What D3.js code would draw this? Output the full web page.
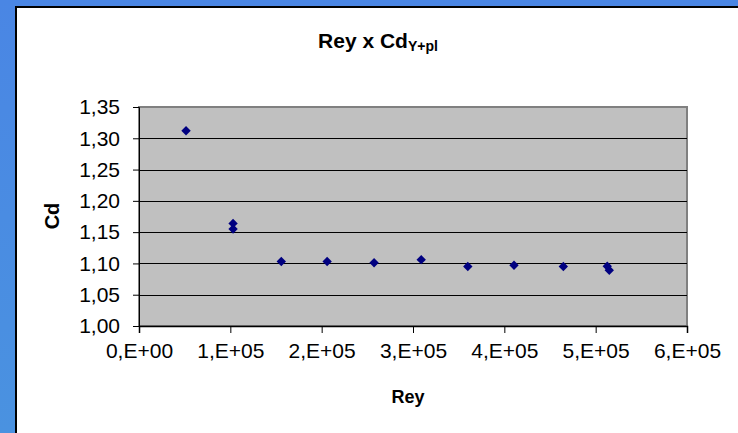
<!DOCTYPE html>
<html>
<head>
<meta charset="utf-8">
<script src="https://cdn.jsdelivr.net/npm/d3@7"></script>
<style>
  html, body { margin: 0; padding: 0; background: #4a89e3; }
  svg { display: block; }
  text { font-family: "Liberation Sans", Arial, sans-serif; }
</style>
</head>
<body>
<svg id="chart" width="738" height="433"></svg>
<script>
// Data
const rey = [51500, 103000, 103000, 155800, 206000, 257400, 309000, 360000, 410600, 464600, 512700, 514900];
const cd  = [1.312, 1.164, 1.155, 1.103, 1.103, 1.101, 1.106, 1.095, 1.097, 1.095, 1.0955, 1.089];
const xTicks = [0, 100000, 200000, 300000, 400000, 500000, 600000];
const xTickLabels = ["0,E+00", "1,E+05", "2,E+05", "3,E+05", "4,E+05", "5,E+05", "6,E+05"];
const yTicks = [1.00, 1.05, 1.10, 1.15, 1.20, 1.25, 1.30, 1.35];
const yTickLabels = ["1,00", "1,05", "1,10", "1,15", "1,20", "1,25", "1,30", "1,35"];

const svg = d3.select("#chart");
const W = 738, H = 433;

// background gradient (blue frame)
const defs = svg.append("defs");
const grad = defs.append("linearGradient").attr("id", "bg").attr("x1", 0).attr("y1", 0).attr("x2", 0).attr("y2", 1);
grad.append("stop").attr("offset", "0%").attr("stop-color", "#4a86e4");
grad.append("stop").attr("offset", "100%").attr("stop-color", "#4a92e0");
svg.append("rect").attr("width", W).attr("height", H).attr("fill", "url(#bg)");

// chart area (white with black border on left/top)
svg.append("rect").attr("x", 16).attr("y", 7).attr("width", W).attr("height", H)
  .attr("fill", "#ffffff").attr("stroke", "#000").attr("stroke-width", 2);

const plot = { left: 139, top: 107, right: 687, bottom: 326 };
const x = d3.scaleLinear().domain([0, 600000]).range([plot.left, plot.right]);
const y = d3.scaleLinear().domain([1.0, 1.35]).range([plot.bottom, plot.top]);

// plot area background
svg.append("rect").attr("x", plot.left).attr("y", plot.top)
  .attr("width", plot.right - plot.left).attr("height", plot.bottom - plot.top)
  .attr("fill", "#c0c0c0").attr("stroke", "#808080").attr("stroke-width", 2);

// gridlines
svg.append("g").selectAll("line").data(yTicks.slice(1, -1)).join("line")
  .attr("x1", plot.left).attr("x2", plot.right)
  .attr("y1", d => Math.round(y(d)) + 0.5).attr("y2", d => Math.round(y(d)) + 0.5)
  .attr("stroke", "#000").attr("stroke-width", 1);

// y axis
const yAxis = d3.axisLeft(y).tickValues(yTicks)
  .tickFormat((d, i) => yTickLabels[i]).tickSize(6).tickPadding(13);
const gy = svg.append("g").attr("transform", `translate(${plot.left},0)`).call(yAxis);
gy.select(".domain").attr("stroke", "#000").attr("stroke-width", 1);
gy.selectAll(".tick line").attr("stroke", "#000");
gy.selectAll("text").attr("font-size", 21).attr("fill", "#000")
  .style("font-family", "'Liberation Sans', Arial, sans-serif");

// x axis
const xAxis = d3.axisBottom(x).tickValues(xTicks)
  .tickFormat((d, i) => xTickLabels[i]).tickSize(7).tickPadding(10);
const gx = svg.append("g").attr("transform", `translate(0,${plot.bottom})`).call(xAxis);
gx.select(".domain").attr("stroke", "#000").attr("stroke-width", 1.5);
gx.selectAll(".tick line").attr("stroke", "#000");
gx.selectAll("text").attr("font-size", 21).attr("fill", "#000")
  .style("font-family", "'Liberation Sans', Arial, sans-serif");

// points
const data = rey.map((r, i) => ({ r, c: cd[i] }));
svg.append("g").selectAll("path").data(data).join("path")
  .attr("d", d3.symbol(d3.symbolSquare, 44)())
  .attr("transform", d => `translate(${x(d.r)},${y(d.c)}) rotate(45)`)
  .attr("fill", "#000080");

// title
const title = svg.append("text").attr("x", 378).attr("y", 48)
  .attr("text-anchor", "middle").attr("font-weight", "bold").attr("font-size", 21).attr("fill", "#000");
title.append("tspan").text("Rey x Cd");
title.append("tspan").attr("font-size", 14).attr("dy", 3).text("Y+pl");

// axis titles
svg.append("text").attr("x", 408).attr("y", 403).attr("text-anchor", "middle")
  .attr("font-weight", "bold").attr("font-size", 18).text("Rey");
svg.append("text").attr("transform", "translate(59,216) rotate(-90)").attr("text-anchor", "middle")
  .attr("font-weight", "bold").attr("font-size", 20).text("Cd");
</script>
</body>
</html>
